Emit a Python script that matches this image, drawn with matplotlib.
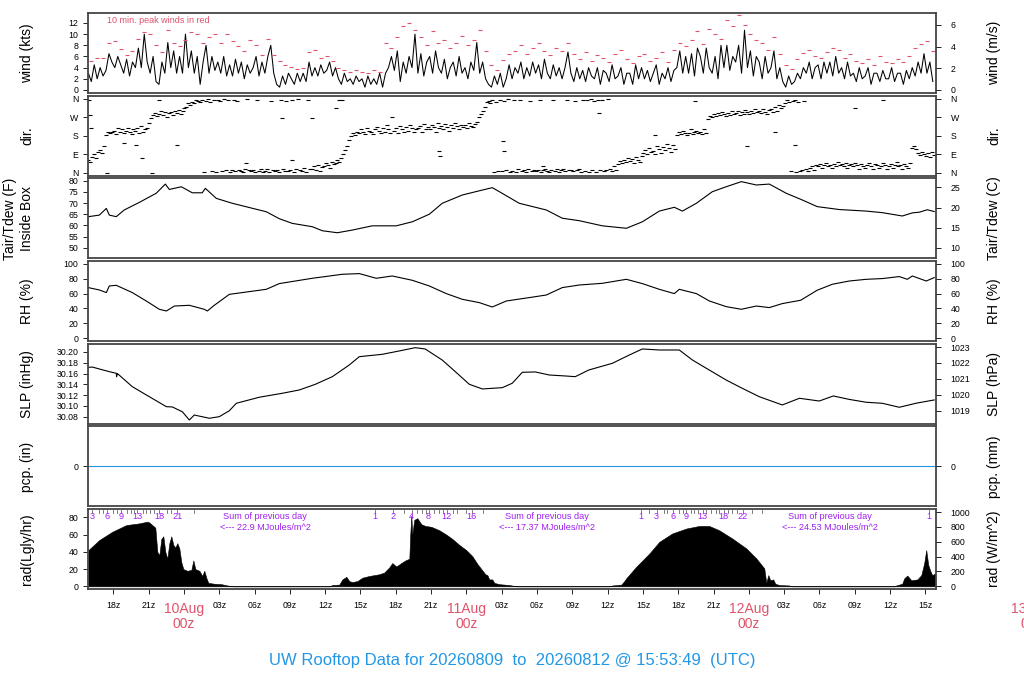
import numpy as np
import matplotlib
matplotlib.use("Agg")
import matplotlib.pyplot as plt

plt.rcParams['font.family'] = ['Liberation Sans', 'DejaVu Sans']

# times are hours since 2026-08-09 00z
t0 = 15.88
t_end = 87.88

# wind speed (kts), every 15 min from t0
wind_kts = [
    3, 1.5, 4.5, 2,   4, 2.5, 3.5, 6.5,   5, 4, 6, 4.5,   3, 5.5, 2.5, 5,
    4, 7.5, 4, 10,    5, 3, 6, 1.5,       1, 5, 3, 8.5,   4, 7, 3, 6,
    3, 10, 4, 7,      3, 6, 1, 5,         8, 3, 6, 3.5,   5, 3, 6, 2.5,
    4.5, 2.5, 5.5, 3, 5, 2, 4.5, 3,       4, 6, 2.5, 5,   3, 6, 8, 3,
    1, 0.5, 2.5, 1,   3, 2, 1, 3,         1.5, 3, 1.5, 5, 2.5, 4, 2.5, 4.5,
    3, 3.5, 5, 2.5,   4, 2, 1, 3,         1.5, 2, 1, 2.5, 1.5, 2, 0.5, 2.5,
    1, 2, 1, 3,       0.5, 3, 4, 6,       3.5, 7, 1.5, 5, 3, 6, 4, 10,
    3, 6.5, 2.5, 5,   6, 3, 7, 4,         3, 5.5, 2, 4,   5, 2.5, 6, 3,
    4, 2, 5, 3.5,     8.5, 3, 5, 2,       1, 0.5, 2.5, 1, 3, 0.5, 2, 4.5,
    2, 4, 3, 5,       2, 4, 2.5, 5,       3, 4.5, 2, 5.5, 3, 2, 4.5, 2.5,
    4, 2, 4, 6.8,     3, 1.5, 4, 2,       3.5, 1.5, 4, 2.5, 2, 4, 1, 3.5,
    3, 1.5, 4.5, 2,   2.5, 4, 1, 3,       3, 1, 4.5, 2,   4, 2, 3.5, 1.5,
    3, 4.5, 1, 3,     2, 4, 1.5, 3.5,     4, 7, 3, 6,     3, 6.5, 2.5, 7.5,
    6, 3, 7.5, 4,     3, 6, 2, 8,         4, 8, 3.5, 6,   5, 8, 3, 10.7,
    4, 7, 2.5, 6,     5, 2, 6, 3,         4, 7, 2, 4,     1.5, 0.5, 2.5, 1,
    1.5, 3, 2, 4,     3, 5, 2, 4,         4.5, 2, 5, 3,   5, 2.5, 6, 3,
    4, 2, 5, 2.5,     3, 1.5, 4, 2,       2.5, 4, 1, 3,   3, 1.5, 3.5, 2,
    2, 4, 1.5, 3,     3, 1, 3.5, 2,       4, 2.5, 5, 3,   6.5, 3, 5, 1.5,
]

# 10 min peak winds (kts), every 30 min
peak_kts = [
    5.1, 5.7, 5.7, 8.5, 8.7, 7.3, 6.2, 7, 9.2, 10.4, 10, 8, 6.8, 10.7, 8.5, 7.8,
    9, 10.4, 10, 8.5, 9.5, 10, 8.4, 10, 8.7, 7.8, 7, 9, 8, 6.2, 9.2, 6.3,
    5.1, 4.5, 4.2, 3.8, 4, 6.8, 7.1, 5.7, 6, 5.2, 3.9, 3.5, 3.3, 3.6, 3.2, 3,
    3.5, 3.2, 8.4, 7.6, 9.5, 11.5, 12, 10.8, 9.5, 8, 10.5, 8.5, 9, 7.5, 8.5, 9.6,
    8, 9, 10.8, 7, 4.5, 3.5, 5.4, 6.5, 7, 8, 6.5, 7.5, 8.4, 7, 6.2, 7.5,
    7, 8.4, 6.5, 5.5, 6.8, 5.2, 6.2, 5.8, 5, 6.5, 7.2, 5.5, 4.8, 6, 6.5, 5.2,
    5.8, 6.8, 5, 7.2, 8.5, 7.8, 9, 10.5, 8.2, 11, 10, 9.2, 12.5, 11.5, 13.4, 11.7,
    10, 9, 8.4, 7.2, 9.5, 6.5, 4.5, 3.8, 5.5, 6.6, 7.2, 6, 5.8, 6.8, 7.5, 7.2,
    5.8, 6.5, 5.2, 4.8, 5.6, 4.5, 6, 5, 4.8, 5.6, 5, 6, 7.5, 8.2, 8.7, 7,
]

# wind direction (deg), every 10 min
wind_dir = [
    60, 50, 75, 90, 70, 100,     110, 95, 130, 185, 200, 195,
    200, 205, 190, 215, 200, 210, 195, 205, 215, 200, 190, 210,
    205, 215, 195, 225, 200, 210, 215, 240, 265, 280, 290, 275,
    285, 300, 280, 295, 270, 290, 295, 280, 300, 290, 305, 285,
    300, 315, 320, 340, 330, 345, 340, 355, 350, 345, 355, 5,
    350, 358, 345, 10, 355, 5,   355, 350, 8, 358, 15, 352,
    5, 12, 355, 8, 350, 15,      10, 5, 20, 358, 12, 8,
    15, 5, 355, 10, 18, 5,       10, 20, 5, 350, 15, 8,
    12, 5, 355, 18, 8, 350,      8, 15, 352, 5, 20, 358,
    15, 10, 25, 5, 355, 18,      20, 30, 15, 35, 10, 28,
    30, 45, 35, 25, 50, 40,      45, 60, 50, 70, 90, 110,
    130, 160, 180, 195, 185, 200, 195, 210, 200, 190, 215, 205,
    200, 190, 210, 220, 205, 195, 215, 200, 230, 210, 195, 270,
    205, 215, 195, 225, 210, 200, 220, 205, 230, 215, 200, 210,
    215, 225, 200, 235, 210, 220, 210, 230, 220, 200, 240, 215,
    225, 210, 235, 220, 205, 230, 215, 240, 225, 210, 230, 220,
    230, 215, 240, 225, 220, 235, 245, 270, 285, 300, 320, 345,
    350, 340, 355, 5, 345, 10,   355, 8, 350, 15, 358, 5,
    10, 352, 5, 18, 355, 8,      12, 5, 20, 350, 10, 15,
    8, 15, 355, 5, 12, 20,       10, 5, 15, 352, 8, 18,
    5, 12, 20, 10, 355, 15,      15, 8, 350, 12, 20, 5,
    355, 10, 352, 5, 358, 15,    350, 5, 355, 12, 352, 8,
    15, 358, 20, 10, 30, 15,     40, 55, 45, 60, 50, 70,
    55, 65, 45, 75, 60, 50,      80, 95, 110, 90, 120, 100,
    105, 90, 130, 115, 95, 125,  110, 140, 120, 100, 135, 115,
    185, 200, 190, 205, 195, 185, 195, 210, 190, 200, 205, 195,
    200, 190, 210, 195, 260, 275, 270, 285, 275, 290, 280, 295,
    285, 275, 290, 280, 300, 285, 290, 300, 280, 295, 285, 305,
    295, 285, 300, 290, 310, 295, 300, 290, 310, 295, 285, 305,
    310, 295, 320, 300, 330, 315, 325, 340, 355, 345, 10, 350,
    355, 5, 345, 10, 15, 350,    20, 10, 25, 30, 15, 35,
    30, 40, 25, 35, 45, 30,      35, 25, 40, 30, 50, 35,
    40, 30, 45, 25, 35, 40,      30, 45, 35, 20, 40, 30,
    25, 35, 45, 30, 20, 40,      35, 25, 30, 45, 35, 20,
    30, 40, 25, 35, 50, 30,      35, 20, 40, 30, 25, 45,
    120, 130, 115, 95, 85, 100,  90, 80, 95, 75, 100, 85,
]

# scattered single direction readings
dir_extra_t = [15.96, 16.05, 16.1, 17.49, 18.93, 19.95, 20.46, 21.31, 21.91, 23.44,
               29.30, 32.36, 33.21, 34.91, 36.95, 37.20, 37.46, 45.70, 45.75, 51.13,
               51.2, 54.53, 59.29, 64.05, 67.45, 71.86, 74.24, 75.94, 81.04, 83.42]
dir_extra = [355, 282, 219, 0, 146, 136, 73, 0, 355, 136,
             49, 268, 63, 268, 316, 355, 355, 104, 79, 152,
             104, 31, 292, 185, 347, 131, 196, 136, 315, 355]

# air temperature inside box (F)
tair_t = [15.88, 16.81, 17.41, 17.66, 18.25, 18.93, 20.21, 21.65, 22.42, 22.76,
          23.78, 24.71, 25.56, 25.82, 26.75, 28.11, 31.0, 32.1, 33.21, 34.91,
          35.76, 37.03, 38.31, 40.0, 42.04, 43.4, 44.85, 45.95, 47.65, 49.1,
          50.2, 50.8, 52.49, 54.79, 56.15, 57.59, 59.55, 61.59, 62.95, 64.39,
          65.67, 66.35, 67.54, 68.9, 70.07, 71.36, 72.63, 73.74, 75.17, 76.53,
          77.81, 79.68, 81.98, 83.34, 85.04, 85.89, 86.48, 87.16, 87.75]
tair_f = [63.9, 64.6, 67.6, 64.6, 63.9, 66.9, 70.3, 74.4, 78.5, 76.1,
          77.3, 74.6, 74.6, 76.6, 72.1, 69.9, 66.1, 63.0, 60.9, 59.4,
          57.6, 56.7, 57.9, 59.8, 59.8, 61.6, 65.0, 69.9, 73.6, 75.5,
          76.9, 75.1, 69.9, 66.9, 63.2, 62.1, 59.8, 58.7, 61.6, 66.4,
          68.1, 66.4, 69.9, 75.1, 77.3, 79.6, 78.1, 78.5, 74.4, 71.4,
          68.4, 67.1, 66.4, 65.7, 64.2, 65.6, 65.9, 67.0, 66.2]

# relative humidity (%)
rh_t = [15.88, 16.81, 17.41, 17.66, 18.25, 19.61, 20.80, 21.91, 22.51, 23.19,
        24.46, 25.73, 25.99, 26.58, 27.86, 31.0, 32.1, 34.91, 37.46, 38.9,
        40.34, 41.70, 43.4, 44.85, 46.29, 47.65, 49.1, 50.2, 51.39, 53.34,
        54.79, 56.15, 57.59, 59.55, 61.59, 62.95, 64.39, 65.67, 66.09, 67.54,
        68.65, 70.07, 71.36, 72.63, 73.74, 74.84, 76.4, 77.8, 79.09, 80.53,
        81.98, 83.34, 84.78, 85.46, 85.89, 87.07, 87.75]
rh = [68.1, 64.9, 61.4, 70.3, 71.2, 61.4, 50, 38.8, 36.5, 43.2,
      44.2, 38.8, 36.5, 44.2, 59, 65.8, 73.5, 80.7, 86.1, 87,
      80.7, 83.8, 78, 70.3, 60, 52.3, 47.8, 41.9, 50, 54.6,
      58.1, 68.1, 71.6, 73.9, 79.3, 73.5, 65.8, 60, 65.8, 60,
      50, 42.4, 38.8, 43.2, 41.1, 46.5, 51, 64.5, 72.6, 77,
      79.3, 80.3, 83, 79.3, 83.8, 77, 81.6]

# sea level pressure (inHg)
slp_t = [15.88, 16.22, 17.66, 18.25, 18.28, 18.35, 19.61, 21.06, 22.51, 23.02,
         23.87, 24.46, 24.88, 26.16, 27.01, 27.86, 28.45, 30.40, 32.36, 33.8,
         35.16, 36.61, 38.05, 38.9, 40.85, 42.29, 43.65, 44.5, 45.95, 47.06,
         48.25, 49.36, 51.05, 51.9, 52.75, 53.85, 55.04, 56.4, 57.25, 58.4,
         60.4, 61.84, 62.95, 64.39, 66.09, 67.2, 68.39, 70.07, 71.44, 72.89,
         74.84, 76.3, 77.98, 79.18, 80.53, 81.98, 83.34, 84.78, 86.23, 87.75]
slp = [30.1716, 30.172, 30.1635, 30.1605, 30.154, 30.160, 30.1357, 30.117, 30.0985, 30.098,
       30.089, 30.0738, 30.083, 30.077, 30.080, 30.091, 30.1048, 30.116, 30.1234, 30.1295,
       30.140, 30.1542, 30.1759, 30.1913, 30.1957, 30.2019, 30.208, 30.2056, 30.185, 30.1635,
       30.140, 30.1314, 30.1338, 30.142, 30.1623, 30.163, 30.1573, 30.1555, 30.1542, 30.1666,
       30.179, 30.1944, 30.2056, 30.2037, 30.2037, 30.1852, 30.1697, 30.148, 30.1326, 30.117,
       30.1017, 30.1141, 30.109, 30.1184, 30.112, 30.1067, 30.1048, 30.0974, 30.105, 30.111]

# precipitation (in)
pcp_t = [t0, t_end]
pcp_in = [0.0, 0.0]

# solar radiation (Langley/hr)
rad_t = [15.88, 16.81, 17.92, 19.10, 20.21, 20.89, 21.06, 21.40, 21.57, 21.74,
         21.91, 22.08, 22.25, 22.42, 22.59, 22.76, 22.93, 23.10, 23.27, 23.44,
         23.61, 23.78, 23.95, 24.29, 24.63, 24.80, 24.97, 25.31, 25.56, 25.73,
         25.90, 26.07, 26.58, 27.18, 27.69, 28.03, 28.20,
         36.35, 36.61, 37.20, 37.46, 37.80, 38.05, 38.31, 38.73, 39.16, 39.75,
         40.60, 41.02, 41.45, 41.70, 42.04, 42.47, 42.81, 43.15, 43.23, 43.32,
         43.40, 43.57, 43.83, 44.17, 44.51, 45.02, 45.70, 46.29, 46.80, 47.40,
         47.99, 48.50, 48.93, 49.27, 49.61, 49.78, 49.94, 50.20, 50.37, 50.79,
         51.64, 52.07, 52.32,
         60.14, 60.40, 61.16, 61.41, 61.58, 62.43, 63.54, 64.39, 65.49, 66.68,
         67.78, 68.63, 69.48, 70.59, 71.78, 72.63, 73.31, 73.48, 73.65, 73.82,
         74.07, 74.24, 74.58, 75.43, 75.69,
         84.35, 84.52, 85.03, 85.20, 85.46, 85.80, 86.31, 86.65, 86.90, 87.07,
         87.24, 87.41, 87.58, 87.84]
rad_lgly = [42, 53.7, 63.3, 71, 73, 75, 74, 70, 68, 40,
            36, 55, 58, 40, 32, 50, 58, 48, 45, 50,
            44, 28, 20, 18, 19, 30, 20, 18, 12, 18,
            10, 4, 3, 2.5, 1, 0.3, 0,
            0, 1.5, 2, 8, 11, 6, 5, 6, 10, 12,
            14, 16, 22, 27, 23, 27, 30, 32, 60, 82,
            60, 77, 79, 72, 70, 69, 65, 60, 55, 48,
            42, 35, 26, 20, 14, 13, 8, 8, 4, 2.5,
            1.5, 0.5, 0,
            0, 1, 2, 6, 9.3, 22.7, 38, 51.6, 61.3, 67,
            70, 70, 65, 55.5, 44, 32.4, 20.8, 4, 13, 7,
            8, 3, 1.5, 1, 0,
            0, 1, 3, 9.3, 12.5, 7, 8, 13, 27, 42,
            25, 18, 13, 15]

# running daily radiation sum markers (MJ/m^2), label '' = tick only
mj_t = [16.19, 16.81, 17.15, 17.49, 17.94, 18.28, 18.68, 19.13, 19.51, 19.8,
        20.04, 20.5, 20.78, 21.12, 21.49, 21.91, 22.53, 22.89, 23.44, 24.88,
        40.26, 41.73, 42.72, 43.34, 43.83, 44.25, 44.55, 44.79, 45.27, 45.7,
        46.0, 46.32, 46.9, 47.23, 47.99, 48.44, 49.44,
        62.83, 63.54, 64.16, 64.81, 65.07, 65.52, 66.09, 66.4, 66.66, 67.11,
        67.37, 67.7, 68.07, 68.4, 68.78, 69.21, 69.49, 69.85, 70.2, 70.59,
        71.0, 71.49, 72.26, 73.11,
        87.27]
mj_lab = ["3", "", "", "6", "", "", "9", "", "", "",
          "13", "", "", "", "", "18", "", "", "21", "",
          "1", "2", "", "4", "", "", "", "8", "", "",
          "", "12", "", "", "", "16", "",
          "1", "", "3", "", "", "6", "", "", "9", "",
          "", "", "13", "", "", "", "", "18", "", "",
          "", "22", "", "",
          "1"]
sum_t = [30.9, 54.85, 78.9]
sum_mj = ["22.9", "17.37", "24.53"]

day_hours = [24, 48, 72, 96]
day_names = ["10Aug", "11Aug", "12Aug", "13Aug"]

RED = '#DF536B'
BLUE = '#2297E6'
PURPLE = '#A020F0'
FS = 6.3

fig = plt.figure(figsize=(10.24, 7.0), dpi=100)
gs = fig.add_gridspec(7, 1, left=88/1024, right=936/1024,
                      top=1 - 13/700, bottom=1 - 589/700, hspace=0.034)
axs = [fig.add_subplot(gs[i]) for i in range(7)]


def style(ax):
    ax.set_xlim(15.85, 87.9)
    for s in ax.spines.values():
        s.set_linewidth(1.3)
        s.set_color('#444444')
    ax.tick_params(axis='y', labelsize=FS, length=3.6, width=0.6, pad=3.3)
    ax.tick_params(axis='x', bottom=False, labelbottom=False)


def right_axis(ax, lims, ticks, labels=None):
    r = ax.twinx()
    r.set_ylim(*lims)
    r.set_yticks(ticks)
    if labels is not None:
        r.set_yticklabels(labels)
    r.tick_params(labelsize=FS, length=3.6, width=0.6, pad=7)
    for s in r.spines.values():
        s.set_visible(False)
    return r


t_wind = t0 + np.arange(len(wind_kts)) * 0.25
t_peak = t0 + 0.25 + np.arange(len(peak_kts)) * 0.5
t_dir = t0 + np.arange(len(wind_dir)) / 6.0

# wind speed
ax = axs[0]
style(ax)
ax.plot(t_wind, wind_kts, color='black', lw=0.75)
ax.plot(t_peak, peak_kts, ls='none', marker='_', ms=3, mew=0.8, color=RED)
ax.set_ylim(-0.54, 13.79)
ax.set_yticks(range(0, 13, 2))
right_axis(ax, (-0.54 / 1.94384, 13.79 / 1.94384), [0, 2, 4, 6])
ax.text(0.022, 0.91, "10 min. peak winds in red", transform=ax.transAxes,
        color=RED, fontsize=6.5, ha='left', va='center')

# wind direction
ax = axs[1]
style(ax)
ax.plot(t_dir, wind_dir, ls='none', marker='_', ms=3.2, mew=0.8, color='black')
ax.plot(dir_extra_t, dir_extra, ls='none', marker='_', ms=3.2, mew=0.8, color='black')
ax.set_ylim(-14.4, 374.4)
ax.set_yticks([0, 90, 180, 270, 360])
ax.set_yticklabels(['N', 'E', 'S', 'W', 'N'])
right_axis(ax, (-14.4, 374.4), [0, 90, 180, 270, 360], ['N', 'E', 'S', 'W', 'N'])

# temperature
ax = axs[2]
style(ax)
ax.plot(tair_t, tair_f, color='black', lw=0.8)
ax.set_ylim(45.25, 81.07)
ax.set_yticks(range(50, 81, 5))
right_axis(ax, ((45.25 - 32) * 5 / 9, (81.07 - 32) * 5 / 9), [10, 15, 20, 25])

# relative humidity
ax = axs[3]
style(ax)
ax.plot(rh_t, rh, color='black', lw=0.8)
ax.set_ylim(-4, 104)
ax.set_yticks(range(0, 101, 20))
right_axis(ax, (-4, 104), range(0, 101, 20))

# pressure
ax = axs[4]
style(ax)
ax.plot(slp_t, slp, color='black', lw=0.8)
ax.set_ylim(30.067, 30.2154)
slp_ticks = [30.08, 30.10, 30.12, 30.14, 30.16, 30.18, 30.20]
ax.set_yticks(slp_ticks)
ax.set_yticklabels(["%.2f" % v for v in slp_ticks])
right_axis(ax, (30.067 * 33.8639, 30.2154 * 33.8639), [1019, 1020, 1021, 1022, 1023])

# precipitation
ax = axs[5]
style(ax)
ax.plot(pcp_t, pcp_in, color=BLUE, lw=0.8)
ax.set_ylim(-1, 1)
ax.set_yticks([0])
right_axis(ax, (-25.4, 25.4), [0])

# radiation
ax = axs[6]
style(ax)
ax.fill_between(rad_t, 0, rad_lgly, color='black', lw=0.4)
ax.set_ylim(-3.1, 89.6)
ax.set_yticks(range(0, 81, 20))
right_axis(ax, (-3.1 * 11.622, 89.6 * 11.622), range(0, 1001, 200))

xt = list(range(18, 88, 3))
ax.set_xticks(xt)
ax.set_xticklabels(["" if h % 24 == 0 else "%02dz" % (h % 24) for h in xt])
ax.tick_params(axis='x', bottom=True, labelbottom=True, labelsize=FS,
               length=3.6, width=0.6, pad=5)
tr = ax.get_xaxis_transform()
for h, name in zip(day_hours, day_names):
    ax.text(h, -0.16, name + "\n00z", transform=tr, ha='center', va='top',
            color=RED, fontsize=10, linespacing=1.15, clip_on=False)

for t, lab in zip(mj_t, mj_lab):
    ax.plot([t, t], [0.955, 0.99], transform=tr, color='#666666', lw=0.6)
    if lab:
        ax.text(t, 0.905, lab, transform=tr, ha='center', va='center',
                color=PURPLE, fontsize=6.6)
for t, s in zip(sum_t, sum_mj):
    ax.text(t, 0.905, "Sum of previous day", transform=tr, ha='center',
            va='center', color=PURPLE, fontsize=6.6)
    ax.text(t, 0.775, "<--- " + s + " MJoules/m^2", transform=tr, ha='center',
            va='center', color=PURPLE, fontsize=6.6)

# axis titles
left_labels = ["wind (kts)", "dir.", "Tair/Tdew (F)\nInside Box", "RH (%)",
               "SLP (inHg)", "pcp. (in)", "rad(Lgly/hr)"]
right_labels = ["wind (m/s)", "dir.", "Tair/Tdew (C)", "RH (%)",
                "SLP (hPa)", "pcp. (mm)", "rad (W/m^2)"]
for i in range(7):
    yc = 1 - (13 + 40 + i * 82.7) / 700
    xl = 18.5 / 1024 if i == 2 else 27 / 1024
    fig.text(xl, yc, left_labels[i], rotation=90, ha='center', va='center',
             fontsize=10, linespacing=1.2)
    fig.text(994 / 1024, yc, right_labels[i], rotation=90, ha='center',
             va='center', fontsize=10)

fig.text(0.5, 1 - 660 / 700,
         "UW Rooftop Data for 20260809  to  20260812 @ 15:53:49  (UTC)",
         ha='center', va='center', color=BLUE, fontsize=12)

fig.savefig("out.png", dpi=100, facecolor='white')
